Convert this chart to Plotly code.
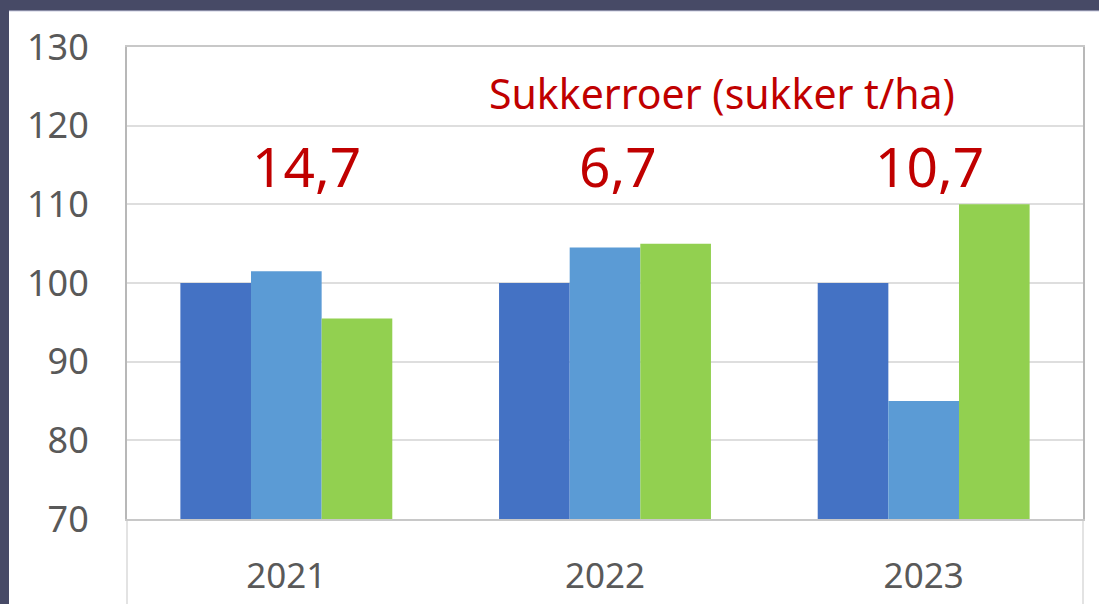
import plotly.graph_objects as go

years = ["2021", "2022", "2023"]
series_a = [100, 100, 100]
series_b = [101.5, 104.5, 85]
series_c = [95.5, 105, 110]
diff_labels = ["14,7", "6,7", "10,7"]
title_text = "Sukkerroer (sukker t/ha)"
y_ticks = [70, 80, 90, 100, 110, 120, 130]

colors = ["#4472C4", "#5B9BD5", "#92D050"]
FONT = "Noto Sans"
FRAME = "#474a66"

fig = go.Figure()
for vals, c in zip([series_a, series_b, series_c], colors):
    fig.add_trace(go.Bar(x=years, y=vals, marker=dict(color=c, line=dict(width=0))))

W, H = 1099, 604
L, R, T, B = 127, 16, 47, 85
pw = W - L - R
ph = H - T - B

def px(xp):
    return (xp - L) / pw

def py(yp):
    return (H - B - yp) / ph

shapes = [
    dict(type="rect", xref="paper", yref="paper", x0=px(9), x1=px(W + 5), y0=py(H + 5), y1=py(11),
         fillcolor="white", line=dict(width=0), layer="below"),
    dict(type="line", xref="paper", yref="paper", x0=px(9), x1=px(W + 5), y0=py(11), y1=py(11),
         line=dict(color="#c9cbe0", width=1), layer="below"),
    dict(type="line", xref="paper", yref="paper", x0=0, x1=0, y0=py(H + 5), y1=0,
         line=dict(color="#e3e3e3", width=2), layer="below"),
    dict(type="line", xref="paper", yref="paper", x0=1, x1=1, y0=py(H + 5), y1=0,
         line=dict(color="#e3e3e3", width=2), layer="below"),
]

fig.update_layout(
    width=W, height=H,
    margin=dict(l=L, r=R, t=T, b=B, autoexpand=False),
    paper_bgcolor=FRAME,
    plot_bgcolor="white",
    barmode="group",
    bargap=0.335,
    bargroupgap=0,
    showlegend=False,
    shapes=shapes,
    font=dict(family=FONT, color="#595959"),
)

fig.update_yaxes(
    range=[70, 130], tickvals=y_ticks, ticktext=[str(v) for v in y_ticks],
    tickfont=dict(size=36, color="#595959", family=FONT),
    showgrid=True, gridcolor="#dedede", gridwidth=2,
    showline=True, linecolor="#b8b8b8", linewidth=2, mirror=True,
    ticks="", ticklabelstandoff=29, zeroline=False, automargin=False,
)
fig.update_xaxes(
    type="category", range=[-0.5, len(years) - 0.5],
    tickfont=dict(size=35, color="#595959", family=FONT),
    showline=True, linecolor="#c8c8c8", linewidth=2, mirror=True,
    ticks="", ticklabelstandoff=25, automargin=False,
)

shifts = [20, 13, 6]
for i, (lab, s) in enumerate(zip(diff_labels, shifts)):
    fig.add_annotation(x=i, y=115, xref="x", yref="y", text=lab, showarrow=False,
                       xshift=s, font=dict(size=55, color="#C00000", family=FONT))

fig.add_annotation(x=px(722), y=124.2, xref="paper", yref="y", text=title_text,
                   showarrow=False, font=dict(size=41, color="#C00000", family=FONT))

fig.write_html(
    "out.html",
    config={"displayModeBar": False},
    post_script="document.body.style.margin='0';document.body.style.background='%s';" % FRAME,
)
